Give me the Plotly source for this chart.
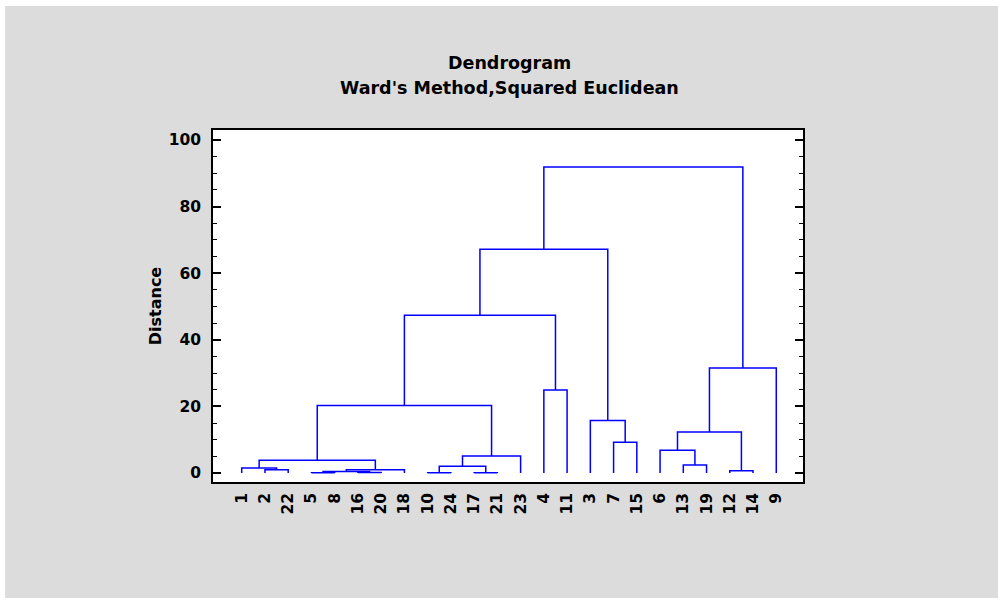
import plotly.graph_objects as go

# ---- data ----
leaf_labels = ["1", "2", "22", "5", "8", "16", "20", "18", "10", "24", "17", "21",
               "23", "4", "11", "3", "7", "15", "6", "13", "19", "12", "14", "9"]

# merges: node name, left child, right child, distance
merge_nodes = ["a", "b", "c", "d", "e", "f", "g", "h", "i", "j", "k", "l",
               "m", "n", "o", "p", "q", "r", "s", "t", "u", "v", "w"]
merge_left = ["5", "16", "a", "c", "2", "1", "f", "10", "17", "h", "j", "g",
              "4", "l", "7", "3", "n", "12", "13", "6", "t", "u", "q"]
merge_right = ["8", "20", "b", "18", "22", "e", "d", "24", "21", "i", "23", "k",
               "11", "m", "15", "o", "p", "14", "19", "s", "r", "9", "v"]
merge_dist = [0.1, 0.15, 0.45, 1.0, 1.0, 1.5, 3.8, 0.1, 0.1, 2.0, 5.1, 20.3,
              24.9, 47.4, 9.2, 15.8, 67.2, 0.7, 2.4, 6.8, 12.3, 31.5, 91.9]

y_ticks = [0, 20, 40, 60, 80, 100]

# ---- build dendrogram path from merge table ----
pos = {lab: i + 1 for i, lab in enumerate(leaf_labels)}
hgt = {lab: 0.0 for lab in leaf_labels}
xs, ys = [], []
for node, l, r, d in zip(merge_nodes, merge_left, merge_right, merge_dist):
    xl, xr = pos[l], pos[r]
    xs += [xl, xl, xr, xr, None]
    ys += [hgt[l], d, d, hgt[r], None]
    pos[node] = (xl + xr) / 2
    hgt[node] = d

fig = go.Figure()
fig.add_trace(go.Scatter(x=xs, y=ys, mode="lines",
                         line=dict(color="#0000ff", width=1.5),
                         hoverinfo="skip", showlegend=False))

FONT = "DejaVu Sans, sans-serif"
FS = 15.5
L, R, T, B = 213, 803, 130, 482
W, H = 998, 598
pw, ph = R - L, B - T


def px_x(px):
    return (px - L) / pw


def px_y(py):
    return (B - py) / ph


fig.update_layout(
    width=W, height=H,
    margin=dict(l=L, r=W - R, t=T, b=H - B, pad=0),
    paper_bgcolor="#dcdcdc",
    plot_bgcolor="white",
    font=dict(family=FONT, size=FS, color="black"),
    showlegend=False,
)

fig.update_xaxes(
    range=[-0.235, 25.15],
    tickmode="array", tickvals=list(range(1, len(leaf_labels) + 1)),
    ticktext=[f"<b>{t}</b>" for t in leaf_labels],
    tickangle=-90, ticks="", showgrid=False, zeroline=False,
    showline=True, linecolor="black", linewidth=1.5, mirror=True,
    tickfont=dict(family=FONT, size=FS, color="black"),
    ticklabelstandoff=3,
)
fig.update_yaxes(
    range=[-2.7, 103],
    tickmode="array", tickvals=y_ticks,
    ticktext=[f"<b>{t}</b>" for t in y_ticks],
    ticks="inside", ticklen=8, tickwidth=1.5, tickcolor="black",
    minor=dict(dtick=5, ticks="inside", ticklen=4, tickwidth=1.2, tickcolor="black"),
    showgrid=False, zeroline=False,
    showline=True, linecolor="black", linewidth=1.5, mirror="ticks",
    tickfont=dict(family=FONT, size=FS, color="black"),
    ticklabelstandoff=7,
    title=dict(text="<b>Distance</b>", font=dict(family=FONT, size=16), standoff=3),
)

# white border strips (outside the gray panel)
fig.add_shape(type="rect", xref="paper", yref="paper",
              x0=px_x(-2), x1=px_x(5), y0=px_y(H + 2), y1=px_y(-2),
              fillcolor="white", line=dict(width=0), layer="below")
fig.add_shape(type="rect", xref="paper", yref="paper",
              x0=px_x(-2), x1=px_x(W + 2), y0=px_y(6), y1=px_y(-2),
              fillcolor="white", line=dict(width=0), layer="below")

fig.add_annotation(text="<b>Dendrogram</b>", xref="paper", yref="paper",
                   x=px_x(509), y=px_y(63), showarrow=False,
                   xanchor="center", yanchor="middle",
                   font=dict(family=FONT, size=17.5, color="black"))
fig.add_annotation(text="<b>Ward's Method,Squared Euclidean</b>", xref="paper", yref="paper",
                   x=px_x(509), y=px_y(88), showarrow=False,
                   xanchor="center", yanchor="middle",
                   font=dict(family=FONT, size=17.5, color="black"))

fig.write_html("out.html")
